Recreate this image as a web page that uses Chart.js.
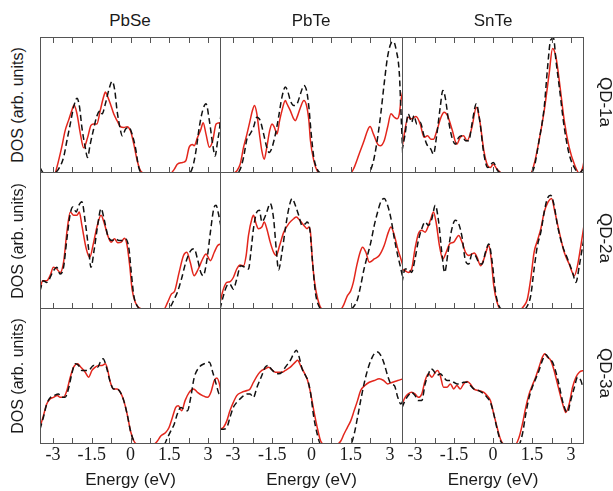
<!DOCTYPE html>
<html>
<head>
<meta charset="utf-8">
<title>DOS of PbSe, PbTe and SnTe quantum dots</title>
<script src="https://cdn.jsdelivr.net/npm/chart.js@4.4.1/dist/chart.umd.min.js"></script>
<style>
  body { margin: 0; background: #fff; }
  #fig { position: relative; width: 613px; height: 491px; overflow: hidden;
         font-family: "Liberation Sans", Arial, sans-serif; color: #1a1a1a; }
  #fig canvas { position: absolute; }
  .lbl { position: absolute; white-space: nowrap; transform: translate(-50%, -50%); }
  .col { font-size: 17px; top: 21px; }
  .dos { font-size: 16px; left: 18px; transform: translate(-50%, -50%) rotate(-90deg); }
  .qd { font-size: 17px; left: 605px; transform: translate(-50%, -50%) rotate(90deg); }
</style>
</head>
<body>
<div id="fig"></div>
<script>
// energy axis
const xMin = -3.5, xMax = 3.5;
const tickValues = [-3, -2.25, -1.5, -0.75, 0, 0.75, 1.5, 2.25, 3];
const labelledTicks = [-3, -1.5, 0, 1.5, 3];
const materials = ['PbSe', 'PbTe', 'SnTe'];
const dots = ['QD-1a', 'QD-2a', 'QD-3a'];

// DOS curves as [energy (eV), DOS (arb. units)]
const pbse1aSolid = [[-3.5,0.4],[-3.31,0],[-2.92,0],[-2.85,4],[-2.66,19],[-2.53,31],[-2.4,38.5],[-2.27,46],[-2.18,50],[-2.07,43.5],[-1.94,29],[-1.81,18.5],[-1.66,26],[-1.53,35],[-1.43,36],[-1.3,36],[-1.17,46],[-1.04,56],[-0.97,59.5],[-0.88,56],[-0.78,51],[-0.65,43.5],[-0.52,38.5],[-0.39,34],[-0.26,33.5],[-0.13,34],[0,31],[0.13,21],[0.26,9],[0.39,1.5],[0.52,0],[1.56,0],[1.69,2.7],[1.81,6.4],[2.01,7.7],[2.14,9],[2.27,19],[2.4,21],[2.46,20],[2.59,26],[2.72,32],[2.81,37],[2.92,28.6],[3.05,19],[3.18,23.7],[3.31,36],[3.44,37],[3.5,34]];
const pbse1aDashed = [[-3.5,4],[-3.37,0.2],[-2.98,0],[-2.79,2.7],[-2.59,11.4],[-2.46,23.7],[-2.33,36],[-2.2,48.4],[-2.07,55],[-1.97,48.4],[-1.88,33.6],[-1.75,18.8],[-1.66,11.4],[-1.56,21],[-1.43,32],[-1.3,42],[-1.17,45.9],[-1.1,43.5],[-0.97,51],[-0.84,61],[-0.71,67.4],[-0.61,61],[-0.52,45.9],[-0.41,33.6],[-0.32,27.4],[-0.19,32.3],[-0.06,33.6],[0.06,28.6],[0.19,18.8],[0.32,4],[0.45,0],[2.27,0],[2.4,4],[2.53,16],[2.66,33.6],[2.79,45.9],[2.92,50.9],[3.05,38.5],[3.18,21],[3.27,12.5],[3.37,23.7],[3.44,32],[3.5,44]];
const pbte1aSolid = [[-3.5,0],[-2.99,0],[-2.86,1.5],[-2.73,6.4],[-2.6,18.8],[-2.47,28.6],[-2.35,38.5],[-2.26,45.9],[-2.18,49.6],[-2.09,43.5],[-1.99,28.6],[-1.9,16.3],[-1.81,10.1],[-1.71,18.8],[-1.6,31.1],[-1.51,36],[-1.42,33.6],[-1.32,28.6],[-1.22,38.5],[-1.13,45.9],[-1,53.3],[-0.94,50.9],[-0.81,45.9],[-0.68,39.8],[-0.62,38.5],[-0.53,42.2],[-0.42,48.4],[-0.29,53.3],[-0.19,49.6],[-0.1,38.5],[-0.04,23.7],[0.09,8.9],[0.22,1.5],[0.35,0],[1.5,0],[1.63,4],[1.82,13.8],[2.01,23.7],[2.14,31.1],[2.24,34.1],[2.37,28.6],[2.53,21.2],[2.63,20],[2.78,23.7],[2.91,33.6],[3.04,43.5],[3.17,41],[3.27,39.8],[3.36,43.5],[3.42,53.3],[3.5,60.7]];
const pbte1aDashed = [[-3.5,0],[-2.86,0],[-2.73,2.7],[-2.6,11.4],[-2.47,24.9],[-2.35,28.6],[-2.22,33.6],[-2.09,41],[-1.96,38.5],[-1.83,28.6],[-1.71,18.8],[-1.62,15.1],[-1.51,18.8],[-1.38,28.6],[-1.26,41],[-1.13,55.8],[-1,63.2],[-0.9,59.5],[-0.81,53.3],[-0.68,49.6],[-0.55,50.9],[-0.42,58.3],[-0.29,64.4],[-0.19,60.7],[-0.1,48.4],[-0.01,28.6],[0.09,11.4],[0.22,2.7],[0.35,0],[2.14,0],[2.27,2.7],[2.4,11.4],[2.53,26.2],[2.65,43.5],[2.78,65.7],[2.91,85.4],[3.04,95.3],[3.14,96.5],[3.24,90.4],[3.36,73.1],[3.42,45.9],[3.5,8.9]];
const snte1aSolid = [[-3.5,18.8],[-3.26,41],[-3.13,39.8],[-2.96,41.5],[-2.8,36],[-2.65,26.2],[-2.52,27.4],[-2.39,24.9],[-2.29,24.9],[-2.16,31.1],[-2,41],[-1.88,44.7],[-1.75,42.2],[-1.58,32.3],[-1.39,21.2],[-1.26,26.2],[-1.13,27.4],[-1,23.7],[-0.81,33.6],[-0.64,48.4],[-0.51,38.5],[-0.35,16.3],[-0.2,5.2],[-0.1,4],[0.01,6.4],[0.16,2.7],[0.35,0],[1.45,0],[1.58,6.4],[1.77,23.7],[1.97,45.9],[2.16,73.1],[2.29,91.6],[2.42,85.4],[2.58,63.2],[2.74,38.5],[2.93,18.8],[3.13,6.4],[3.32,0],[3.45,4],[3.5,8.9]];
const snte1aDashed = [[-3.5,16.3],[-3.38,28.6],[-3.26,43.5],[-3.13,37.3],[-3.04,42.2],[-2.93,36],[-2.8,37.3],[-2.67,28.6],[-2.55,21.2],[-2.39,17.5],[-2.29,13.8],[-2.16,28.6],[-2.03,48.4],[-1.93,60.7],[-1.84,55.8],[-1.71,38.5],[-1.58,26.2],[-1.45,21.2],[-1.32,26.2],[-1.19,27.4],[-1.06,23.7],[-0.93,23.7],[-0.81,36],[-0.64,50.9],[-0.51,38.5],[-0.35,13.8],[-0.2,4],[0.01,7.7],[0.19,1.5],[0.35,0],[1.45,0],[1.58,4],[1.77,23.7],[1.97,48.4],[2.09,75.6],[2.22,97.8],[2.33,99],[2.42,83],[2.55,63.2],[2.74,33.6],[2.93,13.8],[3.13,4],[3.32,0],[3.45,2.7],[3.5,6.4]];

const pbse2aSolid = [[-3.5,14.5],[-3.4,20.6],[-3.24,20.6],[-3.11,24.3],[-2.98,30.4],[-2.85,29.2],[-2.72,26.7],[-2.59,34.1],[-2.46,56.1],[-2.33,70.8],[-2.2,68.4],[-2.07,68.4],[-1.98,70.8],[-1.88,61],[-1.71,43.9],[-1.58,37.7],[-1.43,48.3],[-1.3,59.8],[-1.14,68.4],[-1.01,62.3],[-0.88,53.7],[-0.75,48.8],[-0.62,51.2],[-0.49,48.3],[-0.36,48.8],[-0.23,51.7],[-0.13,46.3],[-0.03,31.6],[0.06,14.5],[0.19,4.7],[0.32,1],[0.45,0],[1.3,0],[1.43,4.7],[1.58,10.8],[1.71,13.2],[1.88,26.7],[2.05,39],[2.18,41.4],[2.31,34.1],[2.46,24.3],[2.62,29.2],[2.79,36.5],[2.92,40.2],[3.09,35.3],[3.24,41.4],[3.37,46.3],[3.5,47.5]];
const pbse2aDashed = [[-3.5,13.2],[-3.37,20.6],[-3.24,19.4],[-2.98,27.9],[-2.85,30.4],[-2.72,25.5],[-2.59,30.4],[-2.46,51.2],[-2.33,69.6],[-2.23,74.5],[-2.1,70.8],[-2,75.7],[-1.88,78.2],[-1.75,63.5],[-1.62,43.9],[-1.53,30.4],[-1.4,43.9],[-1.27,61],[-1.14,73.3],[-1.01,64.7],[-0.88,53.7],[-0.71,50],[-0.58,51.2],[-0.45,50],[-0.32,50],[-0.19,51.2],[-0.06,43.9],[0.03,26.7],[0.13,9.6],[0.26,2.2],[0.39,0],[1.43,0],[1.56,2.2],[1.69,7.1],[1.81,12],[1.97,21.8],[2.14,34.1],[2.33,42.6],[2.46,43.9],[2.59,36.5],[2.72,26.7],[2.81,24.3],[2.96,36.5],[3.09,56.1],[3.22,73.3],[3.31,75.7],[3.4,69.6],[3.5,59.8]];
const pbte2aSolid = [[-3.5,4.7],[-3.37,14.5],[-3.24,19.4],[-3.12,19.9],[-2.99,23],[-2.86,29.2],[-2.73,32.1],[-2.6,31.6],[-2.5,39],[-2.41,53.7],[-2.28,65.9],[-2.22,68.4],[-2.12,62.3],[-2.03,58.6],[-1.9,59.8],[-1.81,63.5],[-1.71,58.6],[-1.58,48.8],[-1.45,41.4],[-1.35,39],[-1.22,46.3],[-1.06,56.1],[-0.87,62.3],[-0.68,65.9],[-0.58,67.2],[-0.45,64.7],[-0.29,61],[-0.17,58.6],[-0.1,59.8],[-0.04,56.1],[0.03,36.5],[0.12,19.4],[0.24,7.1],[0.41,0],[1.12,0],[1.24,3.4],[1.37,9.6],[1.5,13.2],[1.6,19.4],[1.73,31.6],[1.86,41.4],[1.95,45.1],[2.08,41.4],[2.21,34.1],[2.4,36.5],[2.59,39],[2.78,46.3],[2.94,56.1],[3.04,59.8],[3.17,53.7],[3.3,43.9],[3.42,36.5],[3.5,31.6]];
const pbte2aDashed = [[-3.5,0],[-3.37,9.6],[-3.24,16.9],[-3.12,18.1],[-2.99,14.5],[-2.86,21.8],[-2.71,31.6],[-2.54,30.4],[-2.41,29.2],[-2.32,41.4],[-2.22,58.6],[-2.09,70.8],[-1.99,72.1],[-1.9,63.5],[-1.81,65.9],[-1.71,70.8],[-1.58,77],[-1.45,65.9],[-1.35,43.9],[-1.26,28.6],[-1.13,41.4],[-1,58.6],[-0.87,73.3],[-0.74,80.6],[-0.62,75.7],[-0.49,68.4],[-0.36,61],[-0.23,62.3],[-0.17,63.5],[-0.06,57.4],[0.03,36.5],[0.15,12],[0.28,2.2],[0.41,0],[1.5,0],[1.63,2.2],[1.76,7.1],[1.88,16.9],[2.01,29.2],[2.14,39],[2.27,48.8],[2.4,61],[2.53,70.8],[2.65,78.2],[2.78,80.6],[2.91,75.7],[3.04,65.9],[3.17,51.2],[3.3,39],[3.42,29.2],[3.5,21.8]];
const snte2aSolid = [[-3.5,29.2],[-3.38,27.9],[-3.26,26.7],[-3.13,29.2],[-3,43.9],[-2.87,54.9],[-2.74,57.4],[-2.61,56.1],[-2.48,61],[-2.39,65.9],[-2.29,70.8],[-2.19,63.5],[-2.06,46.3],[-1.93,36.5],[-1.8,41.4],[-1.67,47.5],[-1.51,48.8],[-1.32,53.7],[-1.19,48.8],[-1.06,41.4],[-0.93,39],[-0.81,40.2],[-0.72,40.9],[-0.61,37.7],[-0.48,31.6],[-0.35,36.5],[-0.23,43.9],[-0.16,46.3],[-0.07,36.5],[0.03,16.9],[0.16,4.7],[0.29,0],[1.06,0],[1.19,2.2],[1.32,7.1],[1.45,21.8],[1.58,41.4],[1.71,50],[1.84,58.6],[1.97,70.8],[2.12,78.2],[2.25,80.6],[2.38,70.8],[2.55,56.1],[2.74,41.4],[2.93,32.8],[3.13,24.3],[3.25,31.6],[3.38,46.3],[3.5,61]];
const snte2aDashed = [[-3.5,19.4],[-3.38,29.2],[-3.26,29.2],[-3.13,26.7],[-3,36.5],[-2.87,50],[-2.74,58.6],[-2.61,63.5],[-2.48,61],[-2.35,65.9],[-2.22,75.7],[-2.09,63.5],[-1.97,41.4],[-1.86,26.7],[-1.73,41.4],[-1.61,56.1],[-1.45,64.7],[-1.32,62.3],[-1.19,52.5],[-1.06,35.3],[-0.93,32.8],[-0.81,40.2],[-0.68,39],[-0.55,34.1],[-0.42,32.8],[-0.29,41.4],[-0.16,47.5],[-0.03,34.1],[0.1,12],[0.23,2.2],[0.35,0],[1.19,0],[1.32,2.2],[1.45,9.6],[1.58,29.2],[1.71,46.3],[1.84,56.1],[1.97,70.8],[2.09,80.6],[2.22,83.1],[2.35,75.7],[2.48,61],[2.67,46.3],[2.87,36.5],[3.06,26.7],[3.19,19.4],[3.32,31.6],[3.45,46.3],[3.5,51.2]];

const pbse3aSolid = [[-3.5,12.1],[-3.37,20.7],[-3.24,29.4],[-3.11,33.1],[-2.98,34.3],[-2.83,35.6],[-2.72,34.3],[-2.59,34.3],[-2.46,39.3],[-2.33,49.1],[-2.2,56.5],[-2.05,59],[-1.92,56.5],[-1.75,52.8],[-1.62,49.1],[-1.49,54.1],[-1.36,56.5],[-1.23,57.8],[-1.1,57.8],[-0.97,59],[-0.88,54.1],[-0.78,45.4],[-0.65,40.5],[-0.52,40.5],[-0.39,38],[-0.26,31.9],[-0.13,22],[0,9.6],[0.13,2.2],[0.26,0],[0.91,0],[1.04,2.2],[1.17,5.9],[1.36,8.4],[1.49,12.1],[1.62,19.5],[1.75,26.9],[1.85,28.1],[1.98,24.4],[2.11,31.9],[2.27,38],[2.44,40.5],[2.59,38],[2.79,35.6],[2.98,34.3],[3.11,38],[3.24,46.7],[3.34,48.6],[3.44,44.2],[3.5,38]];
const pbse3aDashed = [[-3.5,10.9],[-3.37,19.5],[-3.24,29.4],[-3.09,34.3],[-2.96,35.6],[-2.79,36.8],[-2.66,34.3],[-2.53,34.3],[-2.4,40.5],[-2.27,51.6],[-2.14,59],[-2.01,57.8],[-1.88,54.1],[-1.75,54.1],[-1.62,54.1],[-1.43,57.8],[-1.27,56.5],[-1.17,60.2],[-1.06,62.7],[-0.93,56.5],[-0.8,46.7],[-0.65,40.5],[-0.52,40.5],[-0.39,38],[-0.26,31.9],[-0.13,22],[0,9.6],[0.13,2.2],[0.26,0],[1.3,0],[1.43,4.7],[1.56,9.6],[1.69,14.6],[1.81,22],[1.94,26.9],[2.07,25.7],[2.2,24.4],[2.33,34.3],[2.46,48.6],[2.66,56.5],[2.85,59],[3.05,60.2],[3.18,52.8],[3.31,44.2],[3.44,36.8],[3.5,36.8]];
const pbte3aSolid = [[-3.5,10.9],[-3.37,12.1],[-3.24,17],[-3.12,24.4],[-2.99,30.6],[-2.86,35.6],[-2.67,38],[-2.47,39.3],[-2.35,40.5],[-2.22,45.4],[-2.03,51.6],[-1.9,54.1],[-1.77,55.3],[-1.64,56.5],[-1.51,54.6],[-1.38,52.8],[-1.13,52.8],[-1,54.1],[-0.81,56.5],[-0.62,60.2],[-0.53,61.5],[-0.42,57.8],[-0.29,52.8],[-0.17,47.9],[-0.04,38],[0.09,24.4],[0.22,12.1],[0.35,2.2],[0.47,0],[0.99,0],[1.12,2.2],[1.24,7.2],[1.37,12.1],[1.5,17],[1.63,24.4],[1.76,31.9],[1.88,39.3],[2.04,43],[2.21,45.4],[2.4,46.7],[2.59,47.9],[2.76,46.7],[2.91,44.2],[3.1,45.4],[3.3,46.7],[3.5,47.9]];
const pbte3aDashed = [[-3.5,10.9],[-3.37,10.9],[-3.24,12.1],[-3.12,19.5],[-2.99,26.9],[-2.86,30.6],[-2.67,34.3],[-2.47,36.8],[-2.35,36.8],[-2.22,34.3],[-2.09,41.5],[-1.9,50.4],[-1.77,56.5],[-1.64,57.8],[-1.55,55.3],[-1.42,52.8],[-1.26,51.6],[-1.13,52.8],[-1,56.5],[-0.81,61.5],[-0.68,66.4],[-0.58,68.9],[-0.49,65.2],[-0.36,55.3],[-0.23,50.4],[-0.14,46.7],[-0.04,38],[0.09,19.5],[0.22,7.2],[0.35,0],[1.5,0],[1.63,7.2],[1.76,19.5],[1.88,31.9],[2.01,44.2],[2.14,54.1],[2.27,61.5],[2.4,66.4],[2.53,67.7],[2.65,65.2],[2.78,59],[2.91,50.4],[3.04,44.2],[3.17,43],[3.3,34.3],[3.42,29.4],[3.5,31.9]];
const snte3aSolid = [[-3.5,29.4],[-3.38,34.3],[-3.26,36.8],[-3.13,38],[-3,36.8],[-2.87,34.3],[-2.74,36.8],[-2.61,46.7],[-2.48,51.6],[-2.35,49.1],[-2.22,52.8],[-2.13,54.1],[-2.03,50.4],[-1.9,41.7],[-1.77,41.7],[-1.64,44.2],[-1.51,40.5],[-1.39,43],[-1.26,40.5],[-1.13,44.2],[-1,45.9],[-0.87,44.2],[-0.74,40.5],[-0.55,39.3],[-0.35,38],[-0.23,35.6],[-0.1,31.9],[0.03,22],[0.16,12.1],[0.29,3.5],[0.42,0],[0.87,0],[1,4.7],[1.13,14.6],[1.26,26.9],[1.39,36.8],[1.51,43],[1.64,49.1],[1.77,56.5],[1.9,63.9],[1.99,66.4],[2.09,63.9],[2.22,61.5],[2.35,54.1],[2.48,44.2],[2.61,34.3],[2.74,25.7],[2.8,23.2],[2.93,29.4],[3.06,41.7],[3.19,49.1],[3.32,52.8],[3.5,54.1]];
const snte3aDashed = [[-3.5,26.9],[-3.38,31.9],[-3.26,35.6],[-3.13,38],[-3,35.6],[-2.87,31.9],[-2.74,31.9],[-2.61,44.2],[-2.48,51.6],[-2.39,55.3],[-2.29,54.1],[-2.16,50.4],[-2.03,51.6],[-1.9,49.1],[-1.77,46.7],[-1.64,46.7],[-1.51,45.4],[-1.39,44.2],[-1.26,44.2],[-1.13,45.4],[-1,45.4],[-0.87,43],[-0.74,40.5],[-0.55,39.3],[-0.35,36.8],[-0.23,34.3],[-0.1,30.6],[0.03,22],[0.16,10.9],[0.29,2.2],[0.42,0],[1,0],[1.13,7.2],[1.26,22],[1.39,34.3],[1.51,41.7],[1.64,47.9],[1.77,54.1],[1.9,61.5],[2.03,65.9],[2.16,62.7],[2.29,60.2],[2.42,52.8],[2.55,42.7],[2.67,31.9],[2.8,24.4],[2.87,23.2],[2.97,30.6],[3.13,41.7],[3.25,49.1],[3.38,46.7],[3.45,43],[3.5,44.2]];

// rows = dots, columns = materials
const curves = [
  [[pbse1aSolid, pbse1aDashed], [pbte1aSolid, pbte1aDashed], [snte1aSolid, snte1aDashed]],
  [[pbse2aSolid, pbse2aDashed], [pbte2aSolid, pbte2aDashed], [snte2aSolid, snte2aDashed]],
  [[pbse3aSolid, pbse3aDashed], [pbte3aSolid, pbte3aDashed], [snte3aSolid, snte3aDashed]]
];

// panel grid (page pixels)
const colLeft = [40, 220, 402];
const colWidth = [181, 183, 182];
const rowTop = [37, 172, 308];
const rowHeight = [136, 137, 136];
const axisHeight = 48;

Chart.defaults.font.family = '"Liberation Sans", Arial, sans-serif';
Chart.defaults.color = '#1a1a1a';

const toXY = pts => pts.map(p => ({ x: p[0], y: p[1] }));

// frame around each panel plus inward tick marks
const frame = {
  id: 'frame',
  afterDatasetsDraw(chart, args, opts) {
    const { ctx, chartArea: a, scales: { x } } = chart;
    ctx.save();
    ctx.strokeStyle = '#555';
    ctx.lineWidth = 1;
    ctx.strokeRect(a.left + 0.5, a.top + 0.5, a.right - a.left - 1, a.bottom - a.top - 1);
    ctx.beginPath();
    tickValues.forEach(v => {
      const px = Math.round(x.getPixelForValue(v)) + 0.5;
      ctx.moveTo(px, a.bottom - 1);
      ctx.lineTo(px, a.bottom - 6);
      if (opts.top) {
        ctx.moveTo(px, a.top + 1);
        ctx.lineTo(px, a.top + 6);
      }
    });
    ctx.stroke();
    ctx.restore();
  }
};

const fig = document.getElementById('fig');

function addLabel(text, cls, left, top) {
  const d = document.createElement('div');
  d.className = 'lbl ' + cls;
  d.textContent = text;
  if (left !== null) d.style.left = left + 'px';
  if (top !== null) d.style.top = top + 'px';
  fig.appendChild(d);
}

for (let r = 0; r < 3; r++) {
  for (let c = 0; c < 3; c++) {
    const bottomRow = r === 2;
    const w = colWidth[c];
    const h = rowHeight[r] + (bottomRow ? axisHeight : 0);
    const cv = document.createElement('canvas');
    cv.width = w;
    cv.height = h;
    cv.style.width = w + 'px';
    cv.style.height = h + 'px';
    cv.style.left = colLeft[c] + 'px';
    cv.style.top = rowTop[r] + 'px';
    fig.appendChild(cv);

    const xAxis = {
      type: 'linear',
      min: xMin,
      max: xMax,
      display: bottomRow,
      afterBuildTicks: s => { s.ticks = tickValues.map(v => ({ value: v })); },
      grid: { display: false, drawTicks: false },
      border: { display: false },
      ticks: {
        autoSkip: false,
        maxRotation: 0,
        padding: 0,
        color: '#1a1a1a',
        font: { family: '"Liberation Serif", "Times New Roman", serif', size: 18 },
        callback: v => labelledTicks.includes(v) ? String(v) : ''
      },
      title: {
        display: true,
        text: 'Energy (eV)',
        color: '#1a1a1a',
        font: { size: 17 },
        padding: { top: 0, bottom: 1 }
      }
    };
    // only the bottom row reserves room for tick labels and the axis title
    if (bottomRow) xAxis.afterFit = s => { s.height = axisHeight; };

    const [solid, dashed] = curves[r][c];
    new Chart(cv, {
      type: 'line',
      data: {
        datasets: [
          { data: toXY(dashed), borderColor: '#111', borderWidth: 1.5, borderDash: [6, 3.5] },
          { data: toXY(solid), borderColor: '#e3261c', borderWidth: 1.5 }
        ]
      },
      options: {
        responsive: false,
        maintainAspectRatio: false,
        animation: false,
        layout: { padding: 0 },
        elements: {
          point: { radius: 0 },
          line: { cubicInterpolationMode: 'monotone' }
        },
        plugins: {
          legend: { display: false },
          tooltip: { enabled: false },
          frame: { top: r === 0 }
        },
        scales: {
          x: xAxis,
          y: { min: 0, max: 100, display: false }
        }
      },
      plugins: [frame]
    });
  }
}

const colCentre = [130, 311, 493];
materials.forEach((m, c) => addLabel(m, 'col', colCentre[c], null));
dots.forEach((d, r) => {
  const mid = rowTop[r] + rowHeight[r] / 2;
  addLabel('DOS (arb. units)', 'dos', null, mid);
  addLabel(d, 'qd', null, mid - 3);
});
</script>
</body>
</html>
